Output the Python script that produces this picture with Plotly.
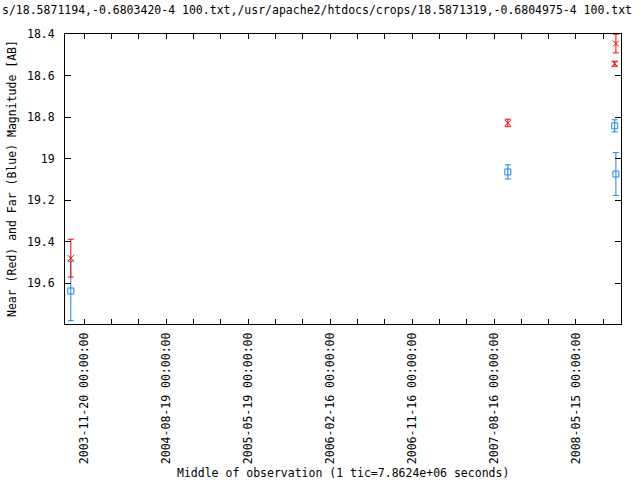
import plotly.graph_objects as go

# ---- data ----
obs_dates = ['2003-10-06', '2007-10-01', '2008-09-21', '2008-09-25']
near_mag = [19.479, 18.828, 18.543, 18.446]
near_err = [0.091, 0.018, 0.012, 0.045]
far_mag = [19.637, 19.064, 18.842, 19.074]
far_err = [0.143, 0.034, 0.029, 0.103]

tick_dates = ['2003-11-20', '2004-02-19', '2004-05-20', '2004-08-19', '2004-11-18',
              '2005-02-17', '2005-05-19', '2005-08-18', '2005-11-17', '2006-02-16',
              '2006-05-18', '2006-08-17', '2006-11-16', '2007-02-15', '2007-05-17',
              '2007-08-16', '2007-11-15', '2008-02-14', '2008-05-15', '2008-08-14']
tick_labels = [(d + ' 00:00:00') if i % 3 == 0 else '' for i, d in enumerate(tick_dates)]

y_ticks = [18.4, 18.6, 18.8, 19.0, 19.2, 19.4, 19.6]
y_tick_labels = ['18.4', '18.6', '18.8', '19', '19.2', '19.4', '19.6']

title_text = 's/18.5871194,-0.6803420-4 100.txt,/usr/apache2/htdocs/crops/18.5871319,-0.6804975-4 100.txt'
x_title = 'Middle of observation (1 tic=7.8624e+06 seconds)'
y_title = 'Near (Red) and Far (Blue) Magnitude [AB]'

RED = '#ff0000'
BLUE = '#1a84e8'
FONT = 'DejaVu Sans Mono'
FS = 11.5

fig = go.Figure()
fig.add_trace(go.Scatter(
    x=obs_dates, y=far_mag, mode='markers',
    marker=dict(symbol='square-open', size=6, color=BLUE, line=dict(width=1, color=BLUE)),
    error_y=dict(type='data', array=far_err, visible=True, color=BLUE, thickness=1, width=3),
    showlegend=False))
fig.add_trace(go.Scatter(
    x=obs_dates, y=near_mag, mode='markers',
    marker=dict(symbol='x-thin-open', size=6, color=RED, line=dict(width=1, color=RED)),
    error_y=dict(type='data', array=near_err, visible=True, color=RED, thickness=1, width=3),
    showlegend=False))

W, H = 640, 480
L, R, T, B = 65, 19, 34, 156
pw, ph = W - L - R, H - T - B

fig.update_layout(
    template='none',
    width=W, height=H,
    margin=dict(l=L, r=R, t=T, b=B, pad=0),
    paper_bgcolor='white', plot_bgcolor='white',
    font=dict(family=FONT, size=FS, color='black'),
    xaxis=dict(
        type='date', range=['2003-09-16 17:00', '2008-10-12'], automargin=False,
        tickmode='array', tickvals=tick_dates, ticktext=tick_labels,
        tickangle=-90, ticks='inside', ticklen=5, tickcolor='black', tickwidth=1,
        showline=True, linecolor='black', linewidth=1, mirror='ticks',
        showgrid=False, zeroline=False, ticklabelstandoff=3,
        tickfont=dict(family=FONT, size=FS, color='black')),
    yaxis=dict(
        range=[19.796, 18.4], automargin=False,
        tickmode='array', tickvals=y_ticks, ticktext=y_tick_labels,
        ticks='inside', ticklen=6, tickcolor='black', tickwidth=1,
        showline=True, linecolor='black', linewidth=1, mirror='ticks',
        showgrid=False, zeroline=False, ticklabelstandoff=7,
        tickfont=dict(family=FONT, size=FS, color='black')),
    annotations=[
        dict(text=title_text, xref='paper', yref='paper', x=-L / pw, y=1 + (T - 10) / ph,
             xanchor='left', yanchor='middle', showarrow=False,
             font=dict(family=FONT, size=FS, color='black')),
        dict(text=x_title, xref='paper', yref='paper', x=0.5, y=-(473 - (H - B)) / ph,
             xanchor='center', yanchor='middle', showarrow=False,
             font=dict(family=FONT, size=FS, color='black')),
        dict(text=y_title, xref='paper', yref='paper', x=(12 - L) / pw, y=0.5,
             xanchor='center', yanchor='middle', textangle=-90, showarrow=False,
             font=dict(family=FONT, size=FS, color='black')),
    ],
)

fig.write_html('out.html', config={'displayModeBar': False},
               post_script="document.body.style.margin='0';")
